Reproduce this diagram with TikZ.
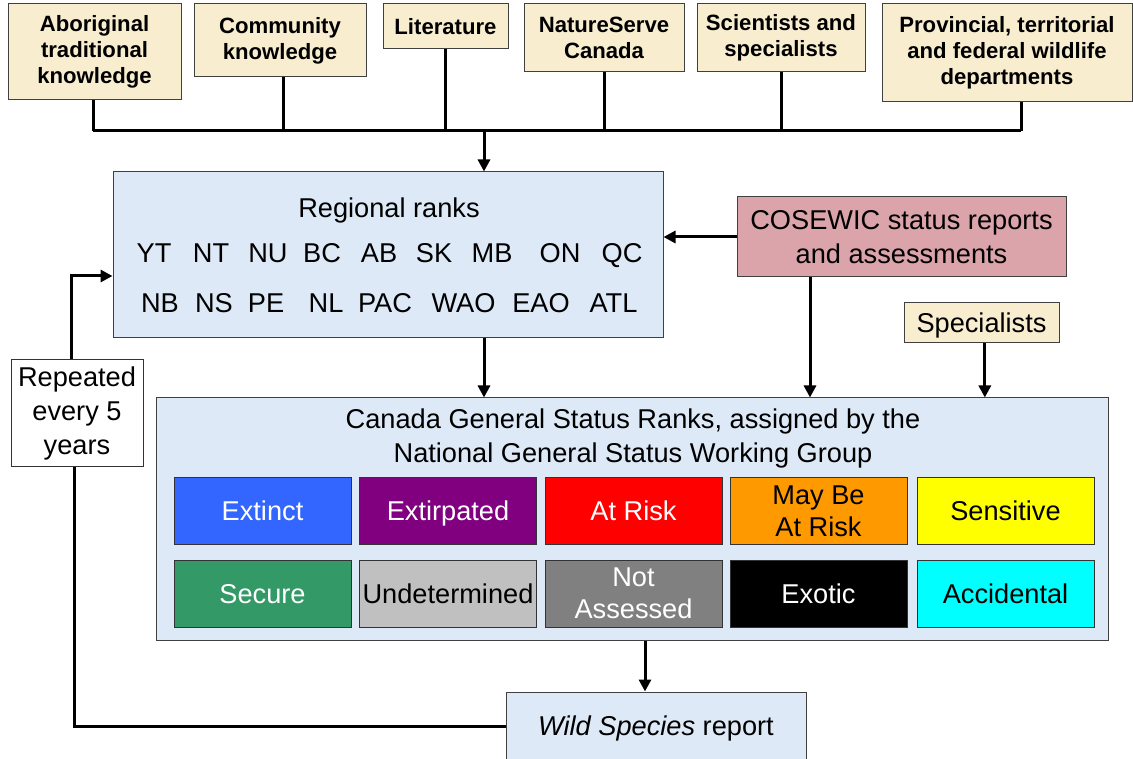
\documentclass[tikz,border=0pt]{standalone}
\usepackage{fontspec}
\setmainfont{Liberation Sans}
\usetikzlibrary{arrows.meta}

\definecolor{srcfill}{RGB}{248,237,207}
\definecolor{rankfill}{RGB}{221,233,246}
\definecolor{cosfill}{RGB}{219,163,170}
\definecolor{cExtinct}{RGB}{51,102,255}
\definecolor{cExtirp}{RGB}{128,0,128}
\definecolor{cRisk}{RGB}{255,0,0}
\definecolor{cMay}{RGB}{255,153,0}
\definecolor{cSens}{RGB}{255,255,0}
\definecolor{cSecure}{RGB}{51,153,102}
\definecolor{cUndet}{RGB}{192,192,192}
\definecolor{cNotAss}{RGB}{128,128,128}
\definecolor{cExotic}{RGB}{0,0,0}
\definecolor{cAccid}{RGB}{0,255,255}

\tikzset{every picture/.style={line width=0.75pt}}

\begin{document}
\begin{tikzpicture}[x=0.75pt,y=0.75pt,yscale=-1,xscale=1,
	boxwh/.style 2 args={minimum width=#1*0.75pt, minimum height=#2*0.75pt},
	srcbox/.style={draw=black!75, fill=srcfill, inner sep=0pt, align=center, font=\fontsize{16.6}{19.5}\selectfont\bfseries},
	bigbox/.style={draw=black!75, fill=rankfill, inner sep=0pt},
	txt/.style={inner sep=0pt, align=center, font=\fontsize{20.4}{25.5}\selectfont},
	oneline/.style={text height=14.6pt, text depth=0pt},
	abbr/.style={txt, anchor=base},
	rankbox/.style={draw=black!80, inner sep=0pt, align=center, boxwh={177}{67}, font=\fontsize{20.4}{24}\selectfont},
	link/.style={line width=2.25pt},
	arr/.style={line width=2.25pt, -{Triangle[length=9pt,width=9pt]}}]
	\useasboundingbox (0,0) rectangle (1133,759);

	%Shape: Rectangle (sources)
	\node[srcbox, boxwh={173}{96}] (aborig) at (94.5,52) {Aboriginal\\traditional\\knowledge};
	\node[srcbox, boxwh={172}{73}] (commun) at (280,40.5) {Community\\knowledge};
	\node[srcbox, boxwh={125}{45}] (litera) at (445.5,26.5) {Literature};
	\node[srcbox, boxwh={160}{68}] (natser) at (604,38) {NatureServe\\Canada};
	\node[srcbox, boxwh={168}{68}] (scient) at (781,38) {Scientists and\\specialists};
	\node[srcbox, boxwh={250}{98}] (provin) at (1007,53) {Provincial, territorial\\and federal wildlife\\departments};

	%Straight Lines (bus)
	\coordinate (busL) at (93,131);
	\coordinate (busM) at (484,131);
	\coordinate (busR) at (1021,131);
	\draw[link] (busL) -- (busR);
	\draw[link] (aborig.south -| busL) -- (busL);
	\draw[link] ([xshift=2.25pt]commun.south) -- ([xshift=2.25pt]commun.south |- busL);
	\draw[link] (litera.south) -- (litera.south |- busL);
	\draw[link] (natser.south) -- (natser.south |- busL);
	\draw[link] (scient.south) -- (scient.south |- busL);
	\draw[link] (busR |- provin.south) -- (busR);

	%Shape: Rectangle (regional ranks)
	\node[bigbox, boxwh={550}{166}] (ranks) at (388,255) {};
	\node[txt, oneline] (rtitle) at (389,208) {Regional ranks};
	\foreach \t/\x in {YT/154, NT/211, NU/268, BC/322, AB/379, SK/434, MB/492, ON/560, QC/622}
		\node[abbr] (r\t) at (\x,263) {\t};
	\foreach \t/\x in {NB/160, NS/214, PE/266, NL/326, PAC/385, WAO/463.5, EAO/541, ATL/613.5}
		\node[abbr] (r\t) at (\x,313) {\t};
	\draw[arr] (busM) -- (busM |- ranks.north);

	%Shape: Rectangle (COSEWIC)
	\node[draw=black!75, fill=cosfill, txt, boxwh={329}{80}] (cosew) at (901.5,237) {COSEWIC status reports\\and assessments};
	\draw[arr] (cosew.west) -- (cosew.west -| ranks.east);

	%Shape: Rectangle (specialists)
	\node[draw=black!75, fill=srcfill, txt, oneline, boxwh={155}{40}] (spec) at (981.5,323) {Specialists};

	%Shape: Rectangle (general status)
	\node[bigbox, boxwh={952}{242}] (general) at (632,519) {};
	\node[txt] (gtitle) at (633,438.5) {Canada General Status Ranks, assigned by the\\National General Status Working Group};
	\coordinate (cosdn) at (810,0);
	\draw[arr] (busM |- ranks.south) -- (busM |- general.north);
	\draw[arr] (cosdn |- cosew.south) -- (cosdn |- general.north);
	\draw[arr] ([xshift=2.5pt]spec.south) -- ([xshift=2.5pt]spec.south |- general.north);

	%Shape: Rectangle (rank categories)
	\node[rankbox, oneline, fill=cExtinct, text=white] (extinct) at (262.5,511) {Extinct};
	\node[rankbox, oneline, fill=cExtirp, text=white] (extirp) at (448,511) {Extirpated};
	\node[rankbox, oneline, fill=cRisk, text=white] (atrisk) at (633.5,511) {At Risk};
	\node[rankbox, fill=cMay] (maybe) at (818.5,511) {May Be\\At Risk};
	\node[rankbox, oneline, fill=cSens] (sensit) at (1005.5,511) {Sensitive};
	\node[rankbox, oneline, fill=cSecure, text=white] (secure) at (262.5,593.5) {Secure};
	\node[rankbox, oneline, fill=cUndet] (undet) at (448,593.5) {Undetermined};
	\node[rankbox, fill=cNotAss, text=white] (notass) at (633.5,593.5) {Not\\Assessed};
	\node[rankbox, oneline, fill=cExotic, text=white] (exotic) at (818.5,593.5) {Exotic};
	\node[rankbox, oneline, fill=cAccid] (accid) at (1005.5,593.5) {Accidental};

	%Shape: Rectangle (report)
	\node[bigbox, txt, oneline, boxwh={300}{68}] (wild) at (656,726) {\textit{Wild Species} report};
	\coordinate (wdn) at (645,0);
	\draw[arr] (wdn |- general.south) -- (wdn |- wild.north);

	%Shape: Rectangle (cycle)
	\node[draw=black!80, fill=white, txt, boxwh={132}{107}] (repeat) at (77,413.5) {Repeated\\every 5\\years};
	\coordinate (fb) at (0,276);
	\draw[link] (wild.west) -| ([xshift=-2.25pt]repeat.south);
	\draw[arr] ([xshift=-4.5pt]repeat.north) |- (fb -| ranks.west);

\end{tikzpicture}
\end{document}
